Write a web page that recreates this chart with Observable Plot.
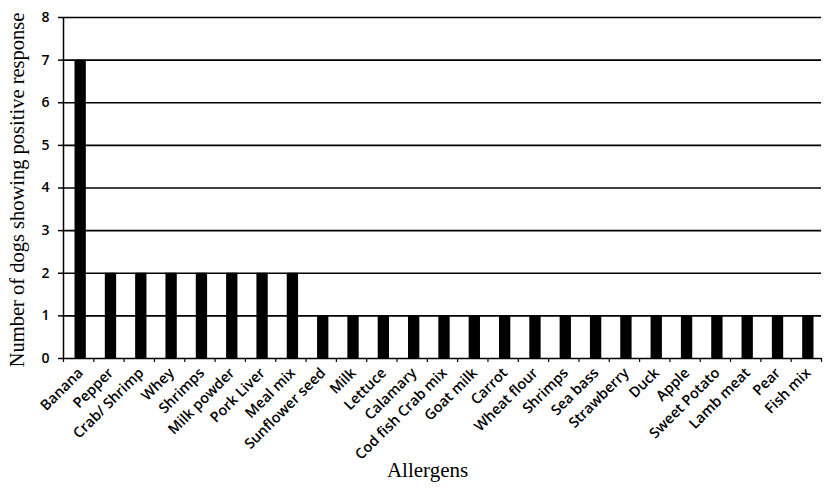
<!DOCTYPE html>
<html>
<head>
<meta charset="utf-8">
<script src="https://cdn.jsdelivr.net/npm/d3@7"></script>
<script src="https://cdn.jsdelivr.net/npm/@observablehq/plot@0.6"></script>
<style>
  html, body { margin: 0; padding: 0; background: #fff; }
</style>
</head>
<body>
<div id="chart"></div>
<script>
const categories = ["Banana", "Pepper", "Crab/ Shrimp", "Whey", "Shrimps", "Milk powder", "Pork Liver", "Meal mix",
  "Sunflower seed", "Milk", "Lettuce", "Calamary", "Cod fish Crab mix", "Goat milk", "Carrot", "Wheat flour",
  "Shrimps", "Sea bass", "Strawberry", "Duck", "Apple", "Sweet Potato", "Lamb meat", "Pear", "Fish mix"];
const values = [7, 2, 2, 2, 2, 2, 2, 2, 1, 1, 1, 1, 1, 1, 1, 1, 1, 1, 1, 1, 1, 1, 1, 1, 1];
const yTicks = [0, 1, 2, 3, 4, 5, 6, 7, 8];
const xTitle = "Allergens";
const yTitle = "Number of dogs showing positive response";

const data = categories.map((name, i) => ({i, name, value: values[i]}));
const bounds = d3.range(categories.length + 1);
const centers = data.map(d => d.i + 0.5);

const chart = Plot.plot({
  width: 827,
  height: 497,
  marginTop: 17,
  marginBottom: 139,
  marginLeft: 63,
  marginRight: 6,
  style: {background: "#fff", color: "#000", fontFamily: "Open Sans"},
  x: {type: "linear", domain: [0, categories.length]},
  y: {domain: [0, 8]},
  marks: [
    Plot.ruleY(yTicks, {stroke: "#000", strokeWidth: 1.6}),
    Plot.rectY(data, {x1: "i", x2: d => d.i + 1, y: "value", fill: "#000", insetLeft: 11.5, insetRight: 7.5}),
    Plot.ruleX([0], {stroke: "#000", strokeWidth: 1.5}),
    Plot.axisY({ticks: yTicks, tickSize: 5, tickPadding: 9, label: null, fontSize: 14, fontWeight: 600, strokeWidth: 1.5}),
    Plot.axisX({ticks: bounds, tickSize: 4, tickFormat: () => "", label: null, strokeWidth: 1.2}),
    Plot.axisX({ticks: centers, tickSize: 0, tickPadding: 12, tickRotate: -45, fontSize: 14.5, fontWeight: 600,
      dx: 2, tickFormat: t => categories[Math.floor(t)], label: null}),
    Plot.text([xTitle], {frameAnchor: "bottom", lineAnchor: "middle", textAnchor: "middle", dx: -15, dy: 112,
      fontFamily: "Liberation Serif", fontSize: 21, fill: "#000"}),
    Plot.text([yTitle], {frameAnchor: "left", lineAnchor: "middle", textAnchor: "middle", rotate: -90, dx: -46, dy: 2,
      fontFamily: "Liberation Serif", fontSize: 20.5, fill: "#000"})
  ]
});
document.getElementById("chart").appendChild(chart);
</script>
</body>
</html>
